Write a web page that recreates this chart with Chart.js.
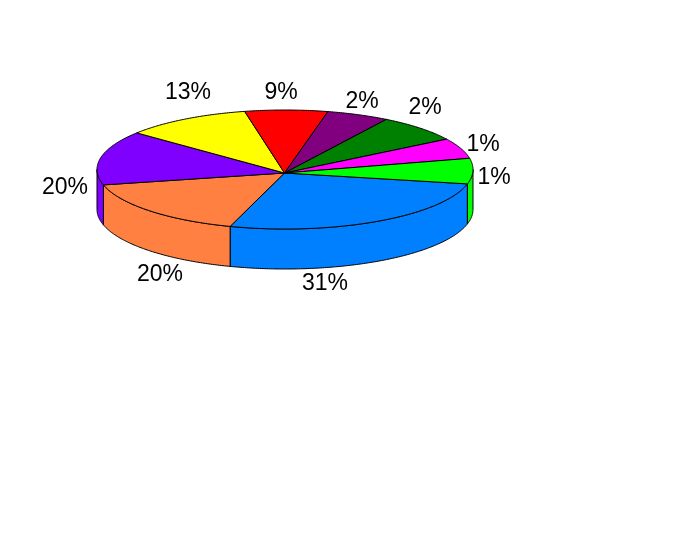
<!DOCTYPE html>
<html>
<head>
<meta charset="utf-8">
<style>html,body{margin:0;padding:0;background:#fff}canvas{display:block}</style>
<script src="https://cdn.jsdelivr.net/npm/chart.js@4"></script>
</head>
<body>
<canvas id="c" width="673" height="534"></canvas>
<script>
// Drawn shares of the slices (clockwise from the blue slice)
const sliceShares = [25.8, 16.1, 14.7, 11.0, 7.1, 5.4, 7.4, 5.5, 6.9];
// Printed percentage labels, same order
const sliceLabels = ['31%', '20%', '20%', '13%', '9%', '2%', '2%', '1%', '1%'];
const sliceColors = ['#0080FF', '#FF8040', '#8000FF', '#FFFF00', '#FF0000', '#800080', '#008000', '#FF00FF', '#00FF00'];
const startRotation = 104;

// Layout of the tilted pie
const disc = { cx: 285, cy: 169.5, rx: 188, ry: 59.5, apexX: 284.5, apexY: 173, depth: 40 };
const labelSpots = [[325, 284], [160, 275], [65, 188], [188, 93], [281, 93], [362, 102], [425, 108], [483, 145], [494, 178]];

const rim = (t, dy) => [disc.cx + disc.rx * Math.cos(t), disc.cy + disc.ry * Math.sin(t) + (dy || 0)];

function arcPoints(a, b, dy) {
  const n = Math.max(2, Math.ceil(Math.abs(b - a) / 0.01));
  const pts = [];
  for (let i = 0; i <= n; i++) pts.push(rim(a + (b - a) * i / n, dy));
  return pts;
}
function trace(ctx, pts, color) {
  ctx.beginPath();
  pts.forEach((p, i) => i ? ctx.lineTo(p[0], p[1]) : ctx.moveTo(p[0], p[1]));
  ctx.closePath();
  ctx.fillStyle = color;
  ctx.fill();
  ctx.stroke();
}

const tiltedPie = {
  id: 'tiltedPie',
  beforeDatasetsDraw(chart) {
    const ctx = chart.ctx;
    const arcs = chart.getDatasetMeta(0).data;
    const TAU = Math.PI * 2;
    ctx.save();
    ctx.lineWidth = 1;
    ctx.strokeStyle = '#000';
    ctx.lineJoin = 'round';
    // side wall: only the front half of the rim shows
    arcs.forEach((arc, i) => {
      for (const shift of [-TAU, 0, TAU]) {
        const a = Math.max(arc.startAngle + shift, 0);
        const b = Math.min(arc.endAngle + shift, Math.PI);
        if (b > a) {
          trace(ctx, arcPoints(a, b, 0).concat(arcPoints(b, a, disc.depth)), sliceColors[i]);
        }
      }
    });
    // top face
    arcs.forEach((arc, i) => {
      trace(ctx, [[disc.apexX, disc.apexY]].concat(arcPoints(arc.startAngle, arc.endAngle, 0)), sliceColors[i]);
    });
    // labels
    ctx.fillStyle = '#000';
    ctx.font = '23px "Liberation Sans", Arial, sans-serif';
    ctx.textAlign = 'center';
    ctx.textBaseline = 'middle';
    sliceLabels.forEach((t, i) => ctx.fillText(t, labelSpots[i][0], labelSpots[i][1]));
    ctx.restore();
    return false;
  }
};

new Chart(document.getElementById('c'), {
  type: 'pie',
  data: {
    labels: sliceLabels,
    datasets: [{ data: sliceShares, backgroundColor: sliceColors, borderColor: '#000', borderWidth: 1 }]
  },
  options: {
    responsive: false,
    animation: false,
    rotation: startRotation,
    plugins: { legend: { display: false }, tooltip: { enabled: false } }
  },
  plugins: [tiltedPie]
});
</script>
</body>
</html>
